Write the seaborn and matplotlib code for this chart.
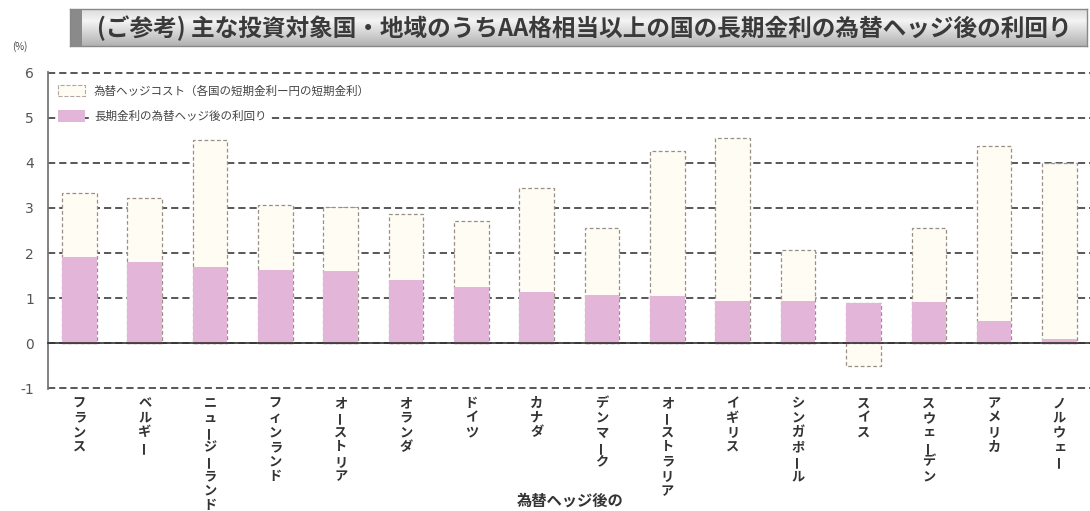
import numpy as np
import pandas as pd
import matplotlib
matplotlib.use("Agg")
import matplotlib.pyplot as plt
import seaborn as sns
from matplotlib.patches import Patch, Rectangle

# ---------------- data ----------------
countries = ["フランス", "ベルギー", "ニュージーランド", "フィンランド", "オーストリア",
             "オランダ", "ドイツ", "カナダ", "デンマーク", "オーストラリア", "イギリス",
             "シンガポール", "スイス", "スウェーデン", "アメリカ", "ノルウェー"]
yield_after_hedge = [1.92, 1.79, 1.68, 1.63, 1.59, 1.41, 1.25, 1.14, 1.07, 1.05,
                     0.94, 0.93, 0.90, 0.91, 0.48, 0.10]
hedge_cost = [1.41, 1.43, 2.84, 1.43, 1.43, 1.45, 1.46, 2.30, 1.48, 3.22,
              3.62, 1.14, -0.52, 1.64, 3.90, 3.89]
y_ticks = [-1, 0, 1, 2, 3, 4, 5, 6]
legend_labels = ["為替ヘッジコスト（各国の短期金利ー円の短期金利）",
                 "長期金利の為替ヘッジ後の利回り"]
title = "(ご参考) 主な投資対象国・地域のうちAA格相当以上の国の長期金利の為替ヘッジ後の利回り"
unit_label = "(%)"
next_title = "為替ヘッジ後の"

# ---------------- style ----------------
sns.set_theme(style="white")
plt.rcParams["font.family"] = ["Noto Sans CJK JP", "DejaVu Sans"]

PINK = "#e3b6d9"
CREAM = "#fffcf4"
EDGE = "#9a8f86"
GRID = "#4a4a4a"

df = pd.DataFrame({
    "country": countries,
    "yield": yield_after_hedge,
    "hedge": hedge_cost,
})
df["upper"] = df["yield"] + df["hedge"].clip(lower=0)
df["lower"] = df["hedge"].clip(upper=0)

W, H = 1090, 511
fig = plt.figure(figsize=(W / 100, H / 100), dpi=100)
fig.patch.set_facecolor("white")

ax = fig.add_axes([48 / W, 1 - 389 / H, (W - 48) / W + 0.002, (389 - 72) / H])
ax.set_facecolor("white")

bar_w = 0.53
common = dict(data=df, x="country", order=countries, width=bar_w,
              saturation=1, errorbar=None, ax=ax)
sns.barplot(y="upper", color=CREAM, edgecolor=EDGE, linestyle=(0, (3, 2)),
            linewidth=0.9, zorder=2, **common)
sns.barplot(y="lower", color=CREAM, edgecolor=EDGE, linestyle=(0, (3, 2)),
            linewidth=0.9, zorder=2, **common)
sns.barplot(y="yield", color=PINK, edgecolor="none", linewidth=0,
            zorder=3, **common)

ax.set_xlim(-0.48, 15.3)
ax.set_ylim(-1.02, 6.02)
ax.set_yticks(y_ticks)
ax.set_yticklabels([str(t) for t in y_ticks], fontsize=10, color="#555",
                   family=["DejaVu Sans"])
ax.yaxis.grid(True, linestyle=(0, (4, 2.2)), color=GRID, linewidth=1.3, zorder=1)
ax.set_axisbelow(True)
ax.tick_params(axis="y", direction="in", length=4, color="#777", pad=10)

for s in ["top", "right"]:
    ax.spines[s].set_visible(False)
ax.spines["left"].set_color("#777")
ax.spines["left"].set_linewidth(1.3)
ax.spines["bottom"].set_position(("data", 0))
ax.spines["bottom"].set_color("#333")
ax.spines["bottom"].set_linewidth(1.2)
ax.spines["bottom"].set_zorder(4)

n = len(countries)
ax.set_xticks([i + 0.5 for i in range(n)])
ax.set_xticklabels([""] * n)
ax.tick_params(axis="x", direction="in", length=4, color="#333", width=1)
ax.set_xlabel("")
ax.set_ylabel("")

# vertical (tategaki) category labels
step = 10.5
for i, name in enumerate(countries):
    for k, ch in enumerate(name):
        rot = 90 if ch == "ー" else 0
        ax.annotate(ch, xy=(i, -1.02), xycoords="data",
                    xytext=(0, -5 - k * step - step / 2), textcoords="offset points",
                    ha="center", va="center", rotation=rot, fontsize=9.5,
                    fontweight="bold", color="#333", annotation_clip=False)

# legend
handles = [Patch(facecolor=CREAM, edgecolor="#b0a8a0", linestyle="--", linewidth=0.8),
           Patch(facecolor=PINK, edgecolor="none")]
leg = ax.legend(handles, legend_labels, loc="upper left",
                bbox_to_anchor=(0.006, 0.972), fontsize=8.3, frameon=False,
                handlelength=2.4, handleheight=1.15, handletextpad=0.75,
                labelspacing=1.1, borderpad=0.3, borderaxespad=0)
for t in leg.get_texts():
    t.set_color("#444")
    t.set_bbox(dict(facecolor="white", edgecolor="none", pad=3.5))
leg.set_zorder(5)

# title banner with gradient
bax = fig.add_axes([70 / W, 1 - 46 / H, (1087 - 70) / W, 37 / H])
grad = np.concatenate([np.linspace(0.86, 0.95, 12), np.linspace(0.95, 0.70, 25)])
bax.imshow(np.repeat(grad[:, None], 2, axis=1), cmap="gray", vmin=0, vmax=1,
           aspect="auto", extent=(0, 1, 0, 1), interpolation="bilinear")
bax.add_patch(Rectangle((0, 0), 0.012, 1, transform=bax.transAxes,
                        facecolor="#8a8a8a", edgecolor="none"))
bax.set_xticks([])
bax.set_yticks([])
for s in bax.spines.values():
    s.set_color("#888")
    s.set_linewidth(1)
fig.text(0.536, 1 - 28 / H, title, ha="center", va="center", fontsize=17,
         fontweight="bold", color="#3a3a3a")

fig.text(20 / W, 1 - 47 / H, unit_label, ha="center", va="center", fontsize=7,
         color="#444")

fig.text(570 / W, 1 - 509 / H, next_title, ha="center", va="bottom", fontsize=11,
         fontweight="bold", color="#333")

fig.savefig("out.png", dpi=100, facecolor="white")
